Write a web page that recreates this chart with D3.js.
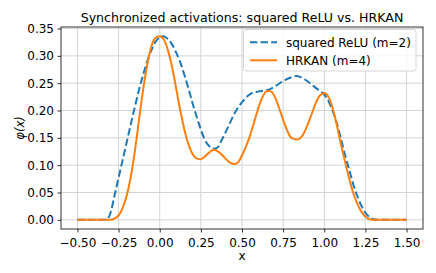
<!DOCTYPE html>
<html>
<head>
<meta charset="utf-8">
<script src="https://cdn.jsdelivr.net/npm/d3@7"></script>
<style>
  html, body { margin: 0; padding: 0; background: #fff; }
  svg { display: block; }
  svg text { font-family: "DejaVu Sans", sans-serif; fill: #000; }
</style>
</head>
<body>
<svg id="chart" width="436" height="273"></svg>
<script>
// Werte
const reluX = [-0.5, -0.4, -0.325, -0.3, -0.275, -0.25, -0.225, -0.2, -0.175, -0.15, -0.125, -0.1, -0.075, -0.05, -0.025,
  0, 0.02, 0.05, 0.075, 0.1, 0.125, 0.15, 0.175, 0.2, 0.225, 0.25, 0.275, 0.3, 0.325, 0.35, 0.375, 0.4, 0.425, 0.45,
  0.475, 0.5, 0.525, 0.55, 0.6, 0.65, 0.7, 0.75, 0.8, 0.83, 0.875, 0.9, 0.95, 1.0, 1.025, 1.05, 1.075, 1.1, 1.125,
  1.15, 1.175, 1.2, 1.225, 1.25, 1.275, 1.3, 1.32, 1.4, 1.5];
const reluY = [0, 0, 0, 0.012, 0.044, 0.077, 0.11, 0.143, 0.176, 0.208, 0.239, 0.266, 0.291, 0.311, 0.326,
  0.334, 0.336, 0.331, 0.321, 0.306, 0.288, 0.265, 0.24, 0.213, 0.188, 0.165, 0.146, 0.135, 0.13, 0.132, 0.145, 0.16, 0.176, 0.192,
  0.205, 0.215, 0.224, 0.23, 0.235, 0.237, 0.244, 0.254, 0.261, 0.263, 0.258, 0.253, 0.241, 0.229, 0.218, 0.2, 0.178, 0.15, 0.12,
  0.093, 0.066, 0.044, 0.026, 0.013, 0.005, 0.001, 0, 0, 0];

const hrkanX = [-0.5, -0.4, -0.3, -0.275, -0.25, -0.225, -0.2, -0.175, -0.15, -0.125, -0.1, -0.075, -0.05, -0.025,
  0, 0.025, 0.05, 0.075, 0.1, 0.125, 0.15, 0.175, 0.2, 0.225, 0.25, 0.275, 0.3, 0.33, 0.36, 0.4, 0.425, 0.45, 0.475,
  0.5, 0.525, 0.55, 0.575, 0.6, 0.625, 0.65, 0.665, 0.7, 0.725, 0.75, 0.775, 0.8, 0.835, 0.875, 0.9, 0.925, 0.95,
  0.975, 1.0, 1.025, 1.05, 1.075, 1.1, 1.125, 1.15, 1.175, 1.2, 1.225, 1.25, 1.275, 1.3, 1.4, 1.5];
const hrkanY = [0, 0, 0, 0.002, 0.008, 0.022, 0.045, 0.08, 0.128, 0.185, 0.24, 0.285, 0.318, 0.333,
  0.336, 0.33, 0.31, 0.28, 0.24, 0.2, 0.165, 0.138, 0.12, 0.112, 0.111, 0.116, 0.123, 0.128, 0.124, 0.112, 0.105, 0.102, 0.105,
  0.118, 0.135, 0.155, 0.18, 0.205, 0.225, 0.235, 0.236, 0.225, 0.205, 0.183, 0.163, 0.15, 0.147, 0.158, 0.175, 0.195, 0.215,
  0.228, 0.232, 0.225, 0.205, 0.175, 0.14, 0.108, 0.077, 0.05, 0.03, 0.015, 0.006, 0.001, 0, 0, 0];

const xTicks = [-0.5, -0.25, 0, 0.25, 0.5, 0.75, 1.0, 1.25, 1.5];
const yTicks = [0, 0.05, 0.1, 0.15, 0.2, 0.25, 0.3, 0.35];

const seriesNames = ["squared ReLU (m=2)", "HRKAN (m=4)"];
const titleText = "Synchronized activations: squared ReLU vs. HRKAN";

const margin = { left: 61, right: 13, top: 27, bottom: 44 };
const width = 436, height = 273;
const fontSize = 12;

const svg = d3.select("#chart");

const x = d3.scaleLinear().domain([-0.6, 1.6]).range([margin.left, width - margin.right]);
const y = d3.scaleLinear().domain([-0.0168, 0.3528]).range([height - margin.bottom, margin.top]);

const fmt = v => d3.format(".2f")(v).replace("-", "\u2212");

// Gitter
const grid = svg.append("g");
grid.selectAll("line.gx").data(xTicks).join("line")
  .attr("x1", d => x(d)).attr("x2", d => x(d))
  .attr("y1", margin.top).attr("y2", height - margin.bottom)
  .attr("stroke", "#d0d0d0").attr("stroke-width", 0.9);
grid.selectAll("line.gy").data(yTicks).join("line")
  .attr("y1", d => y(d)).attr("y2", d => y(d))
  .attr("x1", margin.left).attr("x2", width - margin.right)
  .attr("stroke", "#d0d0d0").attr("stroke-width", 0.9);

// Linien
const line = d3.line()
  .x(d => x(d[0]))
  .y(d => y(d[1]))
  .curve(d3.curveMonotoneX);

svg.append("path")
  .datum(reluX.map((v, i) => [v, reluY[i]]))
  .attr("d", line)
  .attr("fill", "none")
  .attr("stroke", "#1f77b4")
  .attr("stroke-width", 2)
  .attr("stroke-dasharray", "7.4,3.2");

svg.append("path")
  .datum(hrkanX.map((v, i) => [v, hrkanY[i]]))
  .attr("d", line)
  .attr("fill", "none")
  .attr("stroke", "#ff7f0e")
  .attr("stroke-width", 2);

// Achsen
const xAxis = svg.append("g")
  .attr("transform", `translate(0,${height - margin.bottom})`)
  .call(d3.axisBottom(x).tickValues(xTicks).tickFormat(fmt).tickSize(3.5).tickPadding(3.5));
const yAxis = svg.append("g")
  .attr("transform", `translate(${margin.left},0)`)
  .call(d3.axisLeft(y).tickValues(yTicks).tickFormat(fmt).tickSize(3.5).tickPadding(3.5));
[xAxis, yAxis].forEach(a => {
  a.attr("font-family", null).attr("font-size", fontSize);
  a.select(".domain").remove();
  a.selectAll(".tick line").attr("stroke", "#000").attr("stroke-width", 0.8);
});
xAxis.selectAll(".tick text").attr("dy", "0.9em");

// Rahmen
svg.append("rect")
  .attr("x", margin.left).attr("y", margin.top)
  .attr("width", width - margin.left - margin.right)
  .attr("height", height - margin.top - margin.bottom)
  .attr("fill", "none").attr("stroke", "#000").attr("stroke-width", 0.8);

// Titel und Achsenbeschriftung
svg.append("text")
  .attr("x", (margin.left + width - margin.right) / 2)
  .attr("y", 22.3)
  .attr("text-anchor", "middle")
  .attr("font-size", 12.6)
  .text(titleText);

svg.append("text")
  .attr("x", (margin.left + width - margin.right) / 2)
  .attr("y", 259.5)
  .attr("text-anchor", "middle")
  .attr("font-size", fontSize)
  .text("x");

svg.append("text")
  .attr("transform", `translate(24,${(margin.top + height - margin.bottom) / 2}) rotate(-90)`)
  .attr("text-anchor", "middle")
  .attr("font-size", 11.5)
  .attr("font-style", "italic")
  .text("φ(x)");

// Legende
const lg = svg.append("g");
lg.append("rect")
  .attr("x", 243.5).attr("y", 29.5)
  .attr("width", 172.5).attr("height", 41.5)
  .attr("rx", 2.5)
  .attr("fill", "#fff").attr("fill-opacity", 0.8)
  .attr("stroke", "#cccccc").attr("stroke-width", 0.8);
const legendItems = [
  { name: seriesNames[0], color: "#1f77b4", dash: "7.4,3.2" },
  { name: seriesNames[1], color: "#ff7f0e", dash: null }
];
legendItems.forEach((d, i) => {
  const cy = 42.3 + i * 18;
  lg.append("line")
    .attr("x1", 250).attr("x2", 277)
    .attr("y1", cy).attr("y2", cy)
    .attr("stroke", d.color).attr("stroke-width", 2)
    .attr("stroke-dasharray", d.dash);
  lg.append("text")
    .attr("x", 286).attr("y", cy)
    .attr("dy", "0.35em")
    .attr("font-size", fontSize)
    .text(d.name);
});
</script>
</body>
</html>
